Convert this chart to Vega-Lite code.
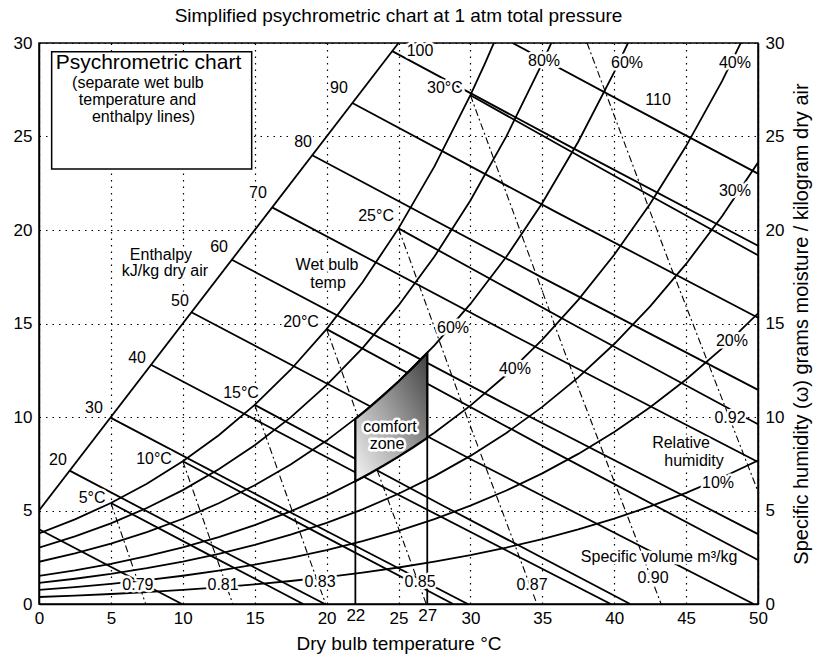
{
"$schema":"https://vega.github.io/schema/vega-lite/v6.json",
"width":719,"height":561,
"autosize":{"type":"none"},
"padding":{"left":39,"top":43,"right":57,"bottom":66},
"background":"white",
"title":{"text":"Simplified psychrometric chart at 1 atm total pressure","font":"Liberation Sans","fontSize":19,"fontWeight":"normal","color":"black","anchor":"middle","offset":8},
"config":{
 "font":"Liberation Sans",
 "view":{"stroke":"black","strokeWidth":1.5},
 "axis":{"domainColor":"black","domainWidth":1.5,"labelColor":"black","labelFont":"Liberation Sans","labelFontSize":17,"titleFont":"Liberation Sans","titleFontSize":19,"titleFontWeight":"normal","titleColor":"black","ticks":false,"gridColor":"black","gridOpacity":1,"gridWidth":1.2,"gridDash":[1.5,5],"labelFlush":false,"labelOverlap":false}
},
"datasets":{
 "curves":[
  {"id":"rh100","x":0,"y":3.775},{"id":"rh100","x":2.5,"y":4.524},{"id":"rh100","x":5,"y":5.403},{"id":"rh100","x":7.5,"y":6.432},{"id":"rh100","x":10,"y":7.632},{"id":"rh100","x":12.5,"y":9.028},{"id":"rh100","x":15,"y":10.65},{"id":"rh100","x":17.5,"y":12.528},{"id":"rh100","x":20,"y":14.699},{"id":"rh100","x":22.5,"y":17.202},{"id":"rh100","x":25,"y":20.086},{"id":"rh100","x":27.5,"y":23.401},{"id":"rh100","x":30,"y":27.21},{"id":"rh100","x":31,"y":28.885},{"id":"rh100","x":32,"y":30.655},
  {"id":"rh80","x":0,"y":3.016},{"id":"rh80","x":2.5,"y":3.614},{"id":"rh80","x":5,"y":4.315},{"id":"rh80","x":7.5,"y":5.135},{"id":"rh80","x":10,"y":6.091},{"id":"rh80","x":12.5,"y":7.202},{"id":"rh80","x":15,"y":8.491},{"id":"rh80","x":17.5,"y":9.982},{"id":"rh80","x":20,"y":11.704},{"id":"rh80","x":22.5,"y":13.686},{"id":"rh80","x":25,"y":15.966},{"id":"rh80","x":27.5,"y":18.581},{"id":"rh80","x":30,"y":21.579},{"id":"rh80","x":32.5,"y":25.007},{"id":"rh80","x":35,"y":28.927},{"id":"rh80","x":36,"y":30.65},
  {"id":"rh60","x":0,"y":2.259},{"id":"rh60","x":2.5,"y":2.707},{"id":"rh60","x":5,"y":3.231},{"id":"rh60","x":7.5,"y":3.843},{"id":"rh60","x":10,"y":4.557},{"id":"rh60","x":12.5,"y":5.386},{"id":"rh60","x":15,"y":6.346},{"id":"rh60","x":17.5,"y":7.457},{"id":"rh60","x":20,"y":8.737},{"id":"rh60","x":22.5,"y":10.208},{"id":"rh60","x":25,"y":11.898},{"id":"rh60","x":27.5,"y":13.833},{"id":"rh60","x":30,"y":16.045},{"id":"rh60","x":32.5,"y":18.568},{"id":"rh60","x":35,"y":21.447},{"id":"rh60","x":37.5,"y":24.719},{"id":"rh60","x":40,"y":28.442},{"id":"rh60","x":41,"y":30.069},
  {"id":"rh40","x":0,"y":1.505},{"id":"rh40","x":2.5,"y":1.801},{"id":"rh40","x":5,"y":2.15},{"id":"rh40","x":7.5,"y":2.557},{"id":"rh40","x":10,"y":3.031},{"id":"rh40","x":12.5,"y":3.58},{"id":"rh40","x":15,"y":4.217},{"id":"rh40","x":17.5,"y":4.951},{"id":"rh40","x":20,"y":5.798},{"id":"rh40","x":22.5,"y":6.768},{"id":"rh40","x":25,"y":7.882},{"id":"rh40","x":27.5,"y":9.154},{"id":"rh40","x":30,"y":10.606},{"id":"rh40","x":32.5,"y":12.257},{"id":"rh40","x":35,"y":14.135},{"id":"rh40","x":37.5,"y":16.264},{"id":"rh40","x":40,"y":18.677},{"id":"rh40","x":42.5,"y":21.404},{"id":"rh40","x":45,"y":24.487},{"id":"rh40","x":47.5,"y":27.962},{"id":"rh40","x":50,"y":31.882},
  {"id":"rh30","x":0,"y":1.128},{"id":"rh30","x":2.5,"y":1.35},{"id":"rh30","x":5,"y":1.611},{"id":"rh30","x":7.5,"y":1.916},{"id":"rh30","x":10,"y":2.27},{"id":"rh30","x":12.5,"y":2.681},{"id":"rh30","x":15,"y":3.157},{"id":"rh30","x":17.5,"y":3.706},{"id":"rh30","x":20,"y":4.338},{"id":"rh30","x":22.5,"y":5.062},{"id":"rh30","x":25,"y":5.893},{"id":"rh30","x":27.5,"y":6.84},{"id":"rh30","x":30,"y":7.92},{"id":"rh30","x":32.5,"y":9.148},{"id":"rh30","x":35,"y":10.541},{"id":"rh30","x":37.5,"y":12.119},{"id":"rh30","x":40,"y":13.903},{"id":"rh30","x":42.5,"y":15.916},{"id":"rh30","x":45,"y":18.185},{"id":"rh30","x":47.5,"y":20.738},{"id":"rh30","x":50,"y":23.609},
  {"id":"rh20","x":0,"y":0.751},{"id":"rh20","x":2.5,"y":0.899},{"id":"rh20","x":5,"y":1.073},{"id":"rh20","x":7.5,"y":1.276},{"id":"rh20","x":10,"y":1.511},{"id":"rh20","x":12.5,"y":1.785},{"id":"rh20","x":15,"y":2.101},{"id":"rh20","x":17.5,"y":2.466},{"id":"rh20","x":20,"y":2.885},{"id":"rh20","x":22.5,"y":3.366},{"id":"rh20","x":25,"y":3.916},{"id":"rh20","x":27.5,"y":4.544},{"id":"rh20","x":30,"y":5.258},{"id":"rh20","x":32.5,"y":6.068},{"id":"rh20","x":35,"y":6.988},{"id":"rh20","x":37.5,"y":8.027},{"id":"rh20","x":40,"y":9.2},{"id":"rh20","x":42.5,"y":10.52},{"id":"rh20","x":45,"y":12.007},{"id":"rh20","x":47.5,"y":13.673},{"id":"rh20","x":50,"y":15.543},
  {"id":"rh10","x":0,"y":0.375},{"id":"rh10","x":2.5,"y":0.45},{"id":"rh10","x":5,"y":0.536},{"id":"rh10","x":7.5,"y":0.637},{"id":"rh10","x":10,"y":0.755},{"id":"rh10","x":12.5,"y":0.891},{"id":"rh10","x":15,"y":1.049},{"id":"rh10","x":17.5,"y":1.23},{"id":"rh10","x":20,"y":1.439},{"id":"rh10","x":22.5,"y":1.679},{"id":"rh10","x":25,"y":1.952},{"id":"rh10","x":27.5,"y":2.264},{"id":"rh10","x":30,"y":2.618},{"id":"rh10","x":32.5,"y":3.02},{"id":"rh10","x":35,"y":3.475},{"id":"rh10","x":37.5,"y":3.988},{"id":"rh10","x":40,"y":4.566},{"id":"rh10","x":42.5,"y":5.216},{"id":"rh10","x":45,"y":5.946},{"id":"rh10","x":47.5,"y":6.763},{"id":"rh10","x":50,"y":7.675},
  {"id":"h10","x":0,"y":3.998},{"id":"h10","x":9.94,"y":0},
  {"id":"h20","x":2.13,"y":7.13},{"id":"h20","x":11,"y":3.543},{"id":"h20","x":19.88,"y":0},
  {"id":"h30","x":4.965,"y":9.965},{"id":"h30","x":17.4,"y":4.933},{"id":"h30","x":29.82,"y":0},
  {"id":"h40","x":7.79,"y":12.79},{"id":"h40","x":24,"y":6.229},{"id":"h40","x":39.76,"y":0},
  {"id":"h50","x":10.6,"y":15.6},{"id":"h50","x":30,"y":7.752},{"id":"h50","x":49.7,"y":0},
  {"id":"h60","x":13.41,"y":18.41},{"id":"h60","x":32,"y":10.861},{"id":"h60","x":50,"y":3.739},
  {"id":"h70","x":16.21,"y":21.21},{"id":"h70","x":33,"y":14.362},{"id":"h70","x":50,"y":7.595},
  {"id":"h80","x":19.0,"y":24.0},{"id":"h80","x":35,"y":17.455},{"id":"h80","x":50,"y":11.45},
  {"id":"h90","x":21.79,"y":26.79},{"id":"h90","x":36,"y":20.943},{"id":"h90","x":50,"y":15.305},
  {"id":"h100","x":24.565,"y":29.565},{"id":"h100","x":37,"y":24.43},{"id":"h100","x":50,"y":19.16},
  {"id":"h110","x":32.935,"y":30},{"id":"h110","x":41,"y":26.677},{"id":"h110","x":50,"y":23.015},
  {"id":"wb5","x":5,"y":5.403},{"id":"wb5","x":11.7,"y":2.682},{"id":"wb5","x":18.37,"y":0},
  {"id":"wb10","x":10,"y":7.632},{"id":"wb10","x":19.4,"y":3.789},{"id":"wb10","x":28.8,"y":0},
  {"id":"wb15","x":15,"y":10.65},{"id":"wb15","x":28,"y":5.295},{"id":"wb15","x":41.11,"y":0},
  {"id":"wb20","x":20,"y":14.699},{"id":"wb20","x":35,"y":8.455},{"id":"wb20","x":50,"y":2.35},
  {"id":"wb25","x":25,"y":20.086},{"id":"wb25","x":37.5,"y":14.797},{"id":"wb25","x":50,"y":9.608},
  {"id":"wb30","x":30,"y":27.21},{"id":"wb30","x":40,"y":22.897},{"id":"wb30","x":50,"y":18.649}
 ],
 "vol":[
  {"id":"v079","x":5,"y":5.403},{"id":"v079","x":7.416,"y":0},
  {"id":"v081","x":10,"y":7.632},{"id":"v081","x":13.475,"y":0},
  {"id":"v083","x":15,"y":10.65},{"id":"v083","x":17.446,"y":5.325},{"id":"v083","x":19.934,"y":0},
  {"id":"v085","x":20,"y":14.699},{"id":"v085","x":23.423,"y":7.35},{"id":"v085","x":26.928,"y":0},
  {"id":"v087","x":25,"y":20.086},{"id":"v087","x":29.737,"y":10.043},{"id":"v087","x":34.628,"y":0},
  {"id":"v090","x":30,"y":27.21},{"id":"v090","x":36.491,"y":13.6},{"id":"v090","x":43.262,"y":0},
  {"id":"v092","x":38.113,"y":30},{"id":"v092","x":43.95,"y":18},{"id":"v092","x":50,"y":6.016}
 ],
 "segs":[
  {"x":0,"y":5,"x2":25,"y2":30},
  {"x":22,"y":0,"x2":22,"y2":9.896},
  {"x":27,"y":0,"x2":27,"y2":13.425}
 ],
 "comfort":[
  {"x":22,"y":9.896,"y2":6.563},{"x":23,"y":10.526,"y2":6.978},{"x":24,"y":11.192,"y2":7.417},{"x":25,"y":11.898,"y2":7.882},{"x":26,"y":12.642,"y2":8.371},{"x":27,"y":13.425,"y2":8.886}
 ],
 "box":[{"x":0.88,"x2":14.79,"y":23.26,"y2":29.53}],
 "boxhead":[{"x":7.61,"y":28.93,"t":"Psychrometric chart"}],
 "boxtext":[
  {"x":6.88,"y":27.86,"t":"(separate wet bulb"},
  {"x":6.85,"y":26.95,"t":"temperature and"},
  {"x":7.27,"y":26.04,"t":"enthalpy lines)"}
 ],
 "labels":[
  {"x":1.32,"y":7.7,"t":"20"},{"x":3.82,"y":10.48,"t":"30"},{"x":6.82,"y":13.16,"t":"40"},{"x":9.8,"y":16.2,"t":"50"},{"x":12.52,"y":19.09,"t":"60"},{"x":15.23,"y":21.98,"t":"70"},{"x":18.36,"y":24.71,"t":"80"},{"x":20.86,"y":27.59,"t":"90"},{"x":26.5,"y":29.55,"t":"100"},{"x":43.05,"y":26.95,"t":"110"},
  {"x":3.69,"y":5.67,"t":"5°C"},{"x":8.0,"y":7.75,"t":"10°C"},{"x":14.05,"y":11.28,"t":"15°C"},{"x":18.22,"y":15.08,"t":"20°C"},{"x":23.44,"y":20.75,"t":"25°C"},{"x":28.23,"y":27.59,"t":"30°C"},
  {"x":35.12,"y":29.04,"t":"80%"},{"x":40.89,"y":28.93,"t":"60%"},{"x":48.4,"y":28.93,"t":"40%"},{"x":48.4,"y":22.09,"t":"30%"},{"x":48.19,"y":14.06,"t":"20%"},{"x":47.22,"y":6.47,"t":"10%"},{"x":28.79,"y":14.76,"t":"60%"},{"x":33.1,"y":12.57,"t":"40%"},
  {"x":44.65,"y":8.61,"t":"Relative"},{"x":45.55,"y":7.65,"t":"humidity"},
  {"x":8.48,"y":18.66,"t":"Enthalpy"},{"x":8.76,"y":17.81,"t":"kJ/kg dry air"},
  {"x":20.03,"y":18.13,"t":"Wet bulb"},{"x":20.1,"y":17.17,"t":"temp"},
  {"x":24.41,"y":9.47,"t":"comfort"},{"x":24.2,"y":8.56,"t":"zone"},
  {"x":6.88,"y":1.02,"t":"0.79"},{"x":12.8,"y":1.02,"t":"0.81"},{"x":19.54,"y":1.18,"t":"0.83"},{"x":26.5,"y":1.18,"t":"0.85"},{"x":34.28,"y":1.02,"t":"0.87"},{"x":42.7,"y":1.39,"t":"0.90"},{"x":48.05,"y":9.95,"t":"0.92"},
  {"x":43.12,"y":2.51,"t":"Specific volume m³/kg"}
 ]
},
"encoding":{
 "x":{"field":"x","type":"quantitative","scale":{"domain":[0,50],"nice":false,"zero":false},"axis":null},
 "y":{"field":"y","type":"quantitative","scale":{"domain":[0,30],"nice":false,"zero":false},"axis":null}
},
"layer":[
 {"data":{"name":"curves"},
  "mark":{"type":"line","color":"black","strokeWidth":1.8,"clip":true},
  "encoding":{
   "x":{"field":"x","type":"quantitative","scale":{"domain":[0,50],"nice":false,"zero":false},
        "axis":{"orient":"bottom","values":[0,5,10,15,20,25,30,35,40,45,50],"grid":true,"title":"Dry bulb temperature °C","labelPadding":6,"titlePadding":8}},
   "y":{"field":"y","type":"quantitative","scale":{"domain":[0,30],"nice":false,"zero":false},
        "axis":{"orient":"left","values":[0,5,10,15,20,25,30],"grid":true,"title":null,"labelPadding":7}},
   "detail":{"field":"id","type":"nominal"}
  }},
 {"data":{"name":"vol"},
  "mark":{"type":"line","color":"black","strokeWidth":1.1,"strokeDash":[7,3,2,3],"clip":true},
  "encoding":{
   "x":{"field":"x","type":"quantitative","scale":{"domain":[0,50],"nice":false,"zero":false},
        "axis":{"orient":"bottom","values":[22,27],"grid":false,"domain":false,"title":null,"labelPadding":3}},
   "y":{"field":"y","type":"quantitative","scale":{"domain":[0,30],"nice":false,"zero":false},
        "axis":{"orient":"right","values":[0,5,10,15,20,25,30],"grid":false,"title":"Specific humidity (ω) grams moisture / kilogram dry air","titleFontSize":20,"titleAngle":270,"labelPadding":7,"titlePadding":28}},
   "detail":{"field":"id","type":"nominal"}
  }},
 {"data":{"name":"segs"},
  "mark":{"type":"rule","color":"black","strokeWidth":1.8},
  "encoding":{"x2":{"field":"x2"},"y2":{"field":"y2"}}},
 {"data":{"name":"comfort"},
  "mark":{"type":"area","fill":{"gradient":"linear","x1":1,"y1":0,"x2":0,"y2":1,"stops":[{"offset":0,"color":"#404040"},{"offset":0.55,"color":"#a8a8a8"},{"offset":1,"color":"#f4f4f4"}]},"stroke":"black","strokeWidth":2.2},
  "encoding":{"y2":{"field":"y2"}}},
 {"data":{"name":"box"},
  "mark":{"type":"rect","fill":"white","stroke":"black","strokeWidth":1.5},
  "encoding":{"x2":{"field":"x2"},"y2":{"field":"y2"}}},
 {"data":{"name":"boxhead"},
  "mark":{"type":"text","font":"Liberation Sans","fontSize":21,"color":"black"},
  "encoding":{"text":{"field":"t"}}},
 {"data":{"name":"boxtext"},
  "mark":{"type":"text","font":"Liberation Sans","fontSize":16,"color":"black"},
  "encoding":{"text":{"field":"t"}}},
 {"data":{"name":"labels"},
  "mark":{"type":"text","font":"Liberation Sans","fontSize":16,"fill":"white","stroke":"white","strokeWidth":5,"strokeJoin":"round"},
  "encoding":{"text":{"field":"t"}}},
 {"data":{"name":"labels"},
  "mark":{"type":"text","font":"Liberation Sans","fontSize":16,"color":"black"},
  "encoding":{"text":{"field":"t"}}}
],
"resolve":{"axis":{"x":"independent","y":"independent"}}
}
